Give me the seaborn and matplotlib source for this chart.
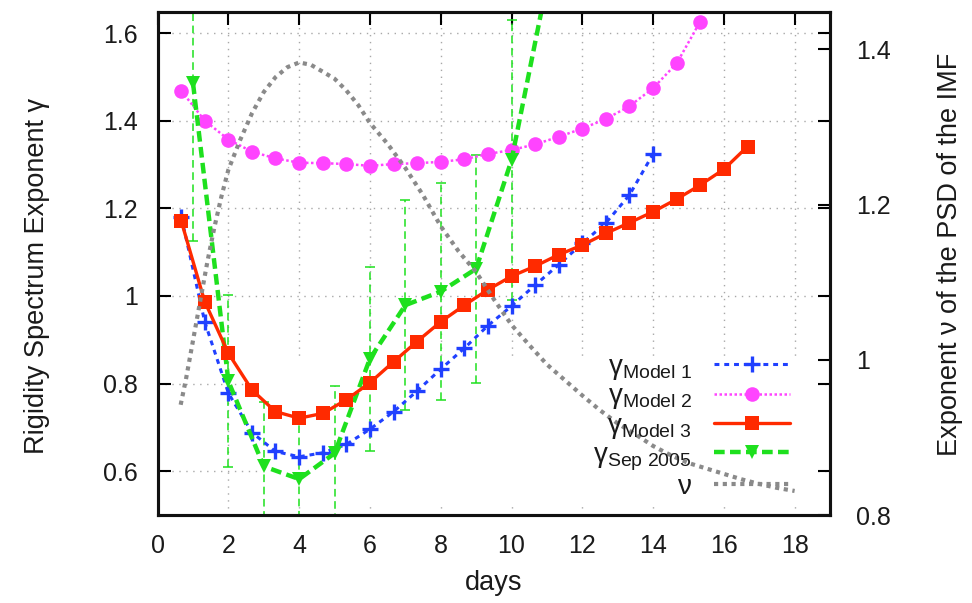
import matplotlib
matplotlib.use("Agg")
import matplotlib.pyplot as plt
from matplotlib.patches import Rectangle
import seaborn as sns

# ---------------- data ----------------
days_m1 = [0.67, 1.33, 2.0, 2.67, 3.33, 4.0, 4.67, 5.33, 6.0, 6.67, 7.33, 8.0,
           8.67, 9.33, 10.0, 10.67, 11.33, 12.0, 12.67, 13.33, 14.0]
gamma_model1 = [1.18, 0.941, 0.778, 0.688, 0.645, 0.633, 0.642, 0.661, 0.696,
                0.736, 0.783, 0.833, 0.881, 0.932, 0.977, 1.025, 1.071, 1.120,
                1.167, 1.230, 1.324]

days_m2 = [0.67, 1.33, 2.0, 2.67, 3.33, 4.0, 4.67, 5.33, 6.0, 6.67, 7.33, 8.0,
           8.67, 9.33, 10.0, 10.67, 11.33, 12.0, 12.67, 13.33, 14.0, 14.67, 15.33]
gamma_model2 = [1.468, 1.400, 1.357, 1.329, 1.314, 1.304, 1.303, 1.301, 1.297,
                1.301, 1.303, 1.306, 1.312, 1.324, 1.333, 1.346, 1.363, 1.382,
                1.404, 1.433, 1.474, 1.531, 1.626]

days_m3 = [0.67, 1.33, 2.0, 2.67, 3.33, 4.0, 4.67, 5.33, 6.0, 6.67, 7.33, 8.0,
           8.67, 9.33, 10.0, 10.67, 11.33, 12.0, 12.67, 13.33, 14.0, 14.67, 15.33,
           16.0, 16.67]
gamma_model3 = [1.170, 0.987, 0.869, 0.785, 0.736, 0.721, 0.732, 0.763, 0.802,
                0.850, 0.896, 0.941, 0.979, 1.014, 1.045, 1.068, 1.094, 1.116,
                1.143, 1.167, 1.192, 1.221, 1.253, 1.289, 1.341]

days_sep = [1, 2, 3, 4, 5, 6, 7, 8, 9, 10, 11]
gamma_sep2005 = [1.485, 0.805, 0.611, 0.582, 0.641, 0.857, 0.979, 1.010, 1.062, 1.310, 1.712]
gamma_sep2005_err = [0.36, 0.196, 0.148, 0.145, 0.154, 0.21, 0.24, 0.247, 0.26, 0.32, 0.05]

days_nu = [0.65, 0.8, 1.0, 1.2, 1.4, 1.6, 1.8, 2.0, 2.33, 2.67, 3.0, 3.33, 3.67,
           4.0, 4.33, 4.67, 5.0, 5.33, 5.67, 6.0, 6.5, 7.0, 7.5, 8.0, 8.5, 9.0,
           9.5, 10.0, 10.5, 11.0, 11.5, 12.0, 12.5, 13.0, 13.5, 14.0, 14.5, 15.0,
           15.5, 16.0, 16.5, 17.0, 17.5, 18.0]
nu_psd = [0.942, 0.975, 1.025, 1.075, 1.125, 1.170, 1.210, 1.245, 1.283, 1.318,
          1.345, 1.364, 1.377, 1.383, 1.380, 1.371, 1.362, 1.347, 1.328, 1.305,
          1.278, 1.247, 1.212, 1.172, 1.140, 1.113, 1.078, 1.045, 1.019, 0.994,
          0.974, 0.954, 0.935, 0.918, 0.904, 0.889, 0.877, 0.867, 0.860, 0.853,
          0.846, 0.840, 0.835, 0.831]

x_ticks = [0, 2, 4, 6, 8, 10, 12, 14, 16, 18]
x_tick_labels = ["0", "2", "4", "6", "8", "10", "12", "14", "16", "18"]
y_ticks = [0.6, 0.8, 1.0, 1.2, 1.4, 1.6]
y_tick_labels = ["0.6", "0.8", "1", "1.2", "1.4", "1.6"]
y2_ticks = [0.8, 1.0, 1.2, 1.4]
y2_tick_labels = ["0.8", "1", "1.2", "1.4"]

labels = [r"$\mathregular{γ_{Model\ 1}}$", r"$\mathregular{γ_{Model\ 2}}$",
          r"$\mathregular{γ_{Model\ 3}}$", r"$\mathregular{γ_{Sep\ 2005}}$", "ν"]

# ---------------- style ----------------
sns.set_theme(style="white")
plt.rcParams["font.family"] = ["Liberation Sans", "DejaVu Sans"]
plt.rcParams["mathtext.fontset"] = "custom"
plt.rcParams["mathtext.rm"] = "Liberation Sans"
plt.rcParams["mathtext.it"] = "Liberation Sans:italic"

BLUE = "#2040ff"
MAGENTA = "#ff44ff"
RED = "#ff2a00"
GREEN = "#1ee01e"
GRAY = "#8a8a8a"
TXT = "#1a1a1a"

fig = plt.figure(figsize=(9.72, 6.03), dpi=100)
ax = fig.add_axes([0.1622, 0.1459, 0.6917, 0.8342])
ax2 = ax.twinx()

ax.set_axisbelow(True)
ax.grid(True, color="#a8a8a8", linestyle=(0, (1, 4)), linewidth=1.0)
ax2.grid(False)

# opaque key area hiding the grid (as in the reference)
ax.add_patch(Rectangle((0.155, 0.026), 0.826, 0.286, transform=ax.transAxes,
                       facecolor="white", edgecolor="none", zorder=1))

# error bars for Sep 2005
eb = ax.errorbar(days_sep, gamma_sep2005, yerr=gamma_sep2005_err, fmt="none",
                 ecolor=GREEN, elinewidth=1.1, capsize=3.5, capthick=1.1, zorder=2)
for lc in eb[2]:
    lc.set_linestyle((0, (5, 3)))

sns.lineplot(x=days_m1, y=gamma_model1, ax=ax, color=BLUE, lw=2.2,
             linestyle=(0, (1.6, 1.6)), marker="+", markersize=11,
             markeredgewidth=2.4, markeredgecolor=BLUE, label=labels[0],
             legend=False, zorder=3)
sns.lineplot(x=days_m2, y=gamma_model2, ax=ax, color=MAGENTA, lw=1.8,
             linestyle=(0, (1, 1)), marker="o", markersize=10.5,
             markeredgewidth=0, markeredgecolor=MAGENTA, label=labels[1],
             legend=False, zorder=3)
sns.lineplot(x=days_m3, y=gamma_model3, ax=ax, color=RED, lw=2.4,
             linestyle="-", marker="s", markersize=10,
             markeredgewidth=0, markeredgecolor=RED, label=labels[2],
             legend=False, zorder=4)
sns.lineplot(x=days_sep, y=gamma_sep2005, ax=ax, color=GREEN, lw=3.2,
             linestyle=(0, (2.4, 1.2)), marker="v", markersize=10,
             markeredgewidth=0, markeredgecolor=GREEN, label=labels[3],
             legend=False, zorder=3)
sns.lineplot(x=days_nu, y=nu_psd, ax=ax2, color=GRAY, lw=3.0,
             linestyle=(0, (1, 1.1)), label=labels[4], legend=False, zorder=3)

# ---------------- axes ----------------
ax.set_xlim(0, 19)
ax.set_ylim(0.5, 1.648)
ax2.set_ylim(0.8, 1.448)

ax.set_xticks(x_ticks)
ax.set_xticklabels(x_tick_labels)
ax.set_yticks(y_ticks)
ax.set_yticklabels(y_tick_labels)
ax2.set_yticks(y2_ticks)
ax2.set_yticklabels(y2_tick_labels)

ax.tick_params(axis="both", direction="in", length=9, width=1.5, color="black",
               labelsize=18, labelcolor=TXT, top=True, right=True)
ax.tick_params(axis="y", pad=14)
ax.tick_params(axis="x", pad=14)
ax2.tick_params(axis="y", direction="in", length=9, width=1.5, color="black",
                labelsize=18, labelcolor=TXT, pad=19)

for a in (ax, ax2):
    for s in a.spines.values():
        s.set_linewidth(2.2)
        s.set_color("#111111")
        s.set_visible(True)

ax.set_xlabel("days", fontsize=19.5, color=TXT)
ax.set_ylabel("Rigidity Spectrum Exponent γ", fontsize=19.5, color=TXT)
ax2.set_ylabel("Exponent ν of the PSD of the IMF", fontsize=19.5, color=TXT)
ax.xaxis.set_label_coords(0.5, -0.110)
ax.yaxis.set_label_coords(-0.160, 0.476)
ax2.yaxis.set_label_coords(1.159, 0.519)

# ---------------- legend ----------------
h1, l1 = ax.get_legend_handles_labels()
h2, l2 = ax2.get_legend_handles_labels()
handles = h1 + h2
leg = ax2.legend(handles, labels, loc="lower right",
                 bbox_to_anchor=(0.9405, 0.03), bbox_transform=ax.transAxes,
                 frameon=False, markerfirst=False, handlelength=2.75,
                 handletextpad=0.78, labelspacing=0.05, borderpad=0,
                 borderaxespad=0, fontsize=20, numpoints=1)
for t in leg.get_texts():
    t.set_color(TXT)

fig.savefig("out.png", dpi=100)
